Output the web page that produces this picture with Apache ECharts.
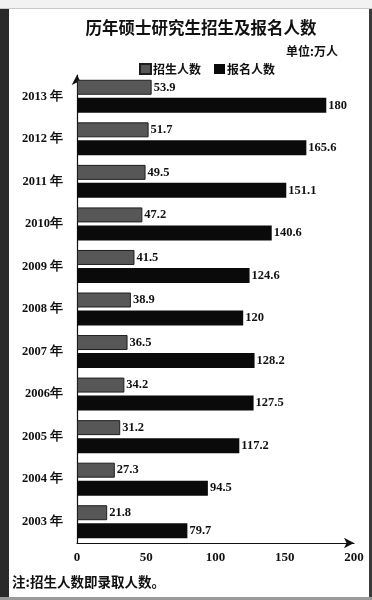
<!DOCTYPE html>
<html><head><meta charset="utf-8">
<script src="https://cdn.jsdelivr.net/npm/echarts@6/dist/echarts.min.js"></script>
<style>html,body{margin:0;padding:0;background:#fff}#c{width:372px;height:600px}</style>
</head><body><div id="c"></div>
<script>
const years = ['2003 年','2004 年','2005 年','2006年','2007 年','2008 年','2009 年','2010年','2011 年','2012 年','2013 年'];
const enrolled = [21.8, 27.3, 31.2, 34.2, 36.5, 38.9, 41.5, 47.2, 49.5, 51.7, 53.9];
const applicants = [79.7, 94.5, 117.2, 127.5, 128.2, 120, 124.6, 140.6, 151.1, 165.6, 180];
const xTicks = [0, 50, 100, 150, 200];

const serif = '"Liberation Serif","DejaVu Serif",serif';
const cjk = '"Noto Sans CJK SC","Liberation Serif",serif';
const chart = echarts.init(document.getElementById('c'));
chart.setOption({
  backgroundColor: '#fff',
  animation: false,
  title: {
    text: '历年硕士研究生招生及报名人数',
    left: 196, top: 14, textAlign: 'center',
    textStyle: {fontFamily: cjk, fontSize: 16.5, fontWeight: 'bold', color: '#111'}
  },
  legend: {
    data: ['招生人数', '报名人数'],
    left: 134, top: 58, icon: 'rect',
    itemWidth: 11, itemHeight: 10, itemGap: 13,
    textStyle: {fontFamily: cjk, fontSize: 12, fontWeight: 'bold', color: '#111', padding: [0,0,0,-3]}
  },
  grid: {left: 77, right: 18, top: 75, bottom: 57, containLabel: false},
  xAxis: {
    type: 'value', min: xTicks[0], max: xTicks[xTicks.length-1], interval: 50,
    splitLine: {show: false}, axisTick: {show: false},
    axisLine: {show: true, lineStyle: {color: '#111', width: 1.2}, symbol: ['none','arrow'], symbolSize: [8,10]},
    axisLabel: {fontFamily: serif, fontSize: 13, fontWeight: 'bold', color: '#111', margin: 8}
  },
  yAxis: {
    type: 'category', data: years,
    axisTick: {show: false},
    axisLine: {show: true, lineStyle: {color: '#111', width: 1.2}, symbol: ['none','arrow'], symbolSize: [8,10]},
    axisLabel: {fontFamily: serif, fontSize: 12.5, fontWeight: 'bold', color: '#111', margin: 14}
  },
  graphic: [
    {type: 'rect', shape: {x: 0, y: 0, width: 372, height: 8}, style: {fill: '#f2f2f2'}, silent: true, z: 100},
    {type: 'rect', shape: {x: 0, y: 8, width: 372, height: 1}, style: {fill: '#c8c8c8'}, silent: true, z: 100},
    {type: 'rect', shape: {x: 0, y: 9, width: 9, height: 591}, style: {fill: '#2a2a2a'}, silent: true, z: 100},
    {type: 'rect', shape: {x: 369, y: 9, width: 3, height: 591}, style: {fill: '#3a3a3a'}, silent: true, z: 100},
    {type: 'rect', shape: {x: 0, y: 597, width: 372, height: 3}, style: {fill: '#9a9a9a'}, silent: true, z: 100},
    {type: 'text', left: 286, top: 45, style: {text: '单位:万人', font: 'bold 12px "Noto Sans CJK SC"', fill: '#111'}},
    {type: 'text', left: 12, top: 575, style: {text: '注:招生人数即录取人数。', font: 'bold 13.5px "Noto Sans CJK SC"', fill: '#111'}}
  ],
  series: [
    {
      name: '招生人数', type: 'bar', data: enrolled,
      barWidth: 15, barGap: '20%',
      itemStyle: {color: '#575757', borderColor: '#1e1e1e', borderWidth: 1},
      label: {show: true, position: 'right', distance: 2, fontFamily: serif, fontSize: 12.5, fontWeight: 'bold', color: '#111'}
    },
    {
      name: '报名人数', type: 'bar', data: applicants,
      barWidth: 15, barGap: '20%',
      itemStyle: {color: '#0a0a0a'},
      label: {show: true, position: 'right', distance: 2, fontFamily: serif, fontSize: 12.5, fontWeight: 'bold', color: '#111'}
    }
  ]
});
</script></body></html>
